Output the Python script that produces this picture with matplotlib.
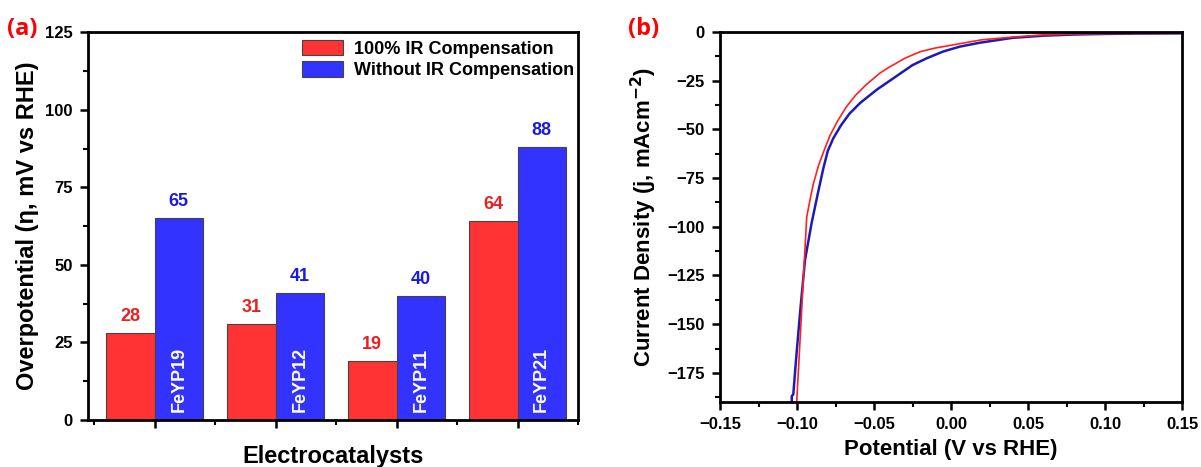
import matplotlib.pyplot as plt
import numpy as np
from matplotlib.ticker import MultipleLocator

# Overpotential at 10 mA/cm2 per catalyst
catalysts = ["FeYP19", "FeYP12", "FeYP11", "FeYP21"]
eta_ir = [28, 31, 19, 64]
eta_no_ir = [65, 41, 40, 88]

# LSV polarisation curves (V vs RHE, mA/cm2)
v_ir = [0.15, 0.12, 0.10, 0.08, 0.06, 0.04, 0.02, 0.00, -0.01, -0.02, -0.03,
        -0.04, -0.046, -0.055, -0.062, -0.068, -0.0735, -0.0785, -0.0825,
        -0.086, -0.0894, -0.0915, -0.0937, -0.0959, -0.098, -0.1002]
j_ir = [-0.6, -0.7, -0.8, -1.0, -1.5, -2.6, -4.0, -6.8, -8.2, -10.1, -13.5,
        -18, -21, -27, -32.5, -38.5, -45.5, -53, -61,
        -68.5, -78, -86, -95, -127, -158, -190]
v_raw = [0.15, 0.12, 0.10, 0.08, 0.06, 0.04, 0.0188, 0.0058, -0.005, -0.0158,
         -0.025, -0.0375, -0.048, -0.0591, -0.066, -0.0715, -0.0764, -0.080,
         -0.0829, -0.0865, -0.0905, -0.0948, -0.098, -0.1005, -0.1024,
         -0.1034, -0.1034]
j_raw = [-0.7, -0.8, -1.0, -1.3, -1.9, -3.0, -5.5, -7.5, -10, -13.5,
         -17, -23.8, -29.5, -36.5, -42, -48, -54.5, -61,
         -70, -83, -98, -117, -144, -167, -186,
         -187, -190]

RED = "#ff3333"
BLUE = "#3333ff"

plt.rcParams["font.family"] = ["Liberation Sans", "DejaVu Sans"]
plt.rcParams["font.weight"] = "bold"

fig = plt.figure(figsize=(12.01, 4.67), dpi=100)
ax1 = fig.add_axes([0.0733, 0.1006, 0.408, 0.8304])
ax2 = fig.add_axes([0.5995, 0.139, 0.3847, 0.7925])


def style_axes(ax):
    for s in ax.spines.values():
        s.set_linewidth(2)
    ax.tick_params(which="major", direction="out", length=6, width=1.8,
                   labelsize=12, pad=5)
    ax.tick_params(which="minor", direction="out", length=3.5, width=1.5)
    for lab in ax.get_xticklabels() + ax.get_yticklabels():
        lab.set_fontweight("bold")


# (a) bar chart
x = np.arange(1, len(catalysts) + 1)
w = 0.4
ax1.bar(x - w / 2, eta_ir, w, color=RED, edgecolor="#444444", linewidth=0.8,
        label="100% IR Compensation")
ax1.bar(x + w / 2, eta_no_ir, w, color=BLUE, edgecolor="#444444", linewidth=0.8,
        label="Without IR Compensation")
for xi, a, b, name in zip(x, eta_ir, eta_no_ir, catalysts):
    ax1.text(xi - w / 2, a + 2.6, str(a), color="#e82020", ha="center",
             va="bottom", fontsize=13, fontweight="bold")
    ax1.text(xi + w / 2, b + 2.6, str(b), color="#1a1ae0", ha="center",
             va="bottom", fontsize=13, fontweight="bold")
    ax1.text(xi + w / 2, 2.6, name, color="white", rotation=90, ha="center",
             va="bottom", fontsize=13, fontweight="bold")
ax1.set_xlim(0.45, 4.5)
ax1.set_ylim(0, 125)
ax1.set_xticks(x)
ax1.set_xticklabels([])
ax1.xaxis.set_minor_locator(MultipleLocator(0.5))
ax1.yaxis.set_major_locator(MultipleLocator(25))
ax1.yaxis.set_minor_locator(MultipleLocator(12.5))
ax1.set_xlabel("Electrocatalysts", fontsize=17, fontweight="bold", labelpad=7)
ax1.set_ylabel("Overpotential (η, mV vs RHE)", fontsize=17, fontweight="bold",
               labelpad=4)
leg = ax1.legend(loc="upper right", bbox_to_anchor=(1.0, 0.99), frameon=False,
                 fontsize=13, handlelength=2.3, handleheight=0.95,
                 borderaxespad=0.0, borderpad=0.2, labelspacing=0.2,
                 handletextpad=0.6)
for t in leg.get_texts():
    t.set_fontweight("bold")
style_axes(ax1)

# (b) polarisation curves
ax2.plot(v_raw, j_raw, color="#1c1cb4", linewidth=1.8)
ax2.plot(v_ir, j_ir, color="#ff2020", linewidth=1.2)
ax2.set_xlim(-0.15, 0.15)
ax2.set_ylim(-190, 0)
ax2.xaxis.set_major_locator(MultipleLocator(0.05))
ax2.xaxis.set_minor_locator(MultipleLocator(0.025))
ax2.yaxis.set_major_locator(MultipleLocator(25))
ax2.yaxis.set_minor_locator(MultipleLocator(12.5))
ax2.xaxis.set_major_formatter(plt.FuncFormatter(
    lambda v, p: f"{v:.2f}".replace("-", "\u2212")))
ax2.set_xlabel("Potential (V vs RHE)", fontsize=16, fontweight="bold",
               labelpad=5)
ax2.set_ylabel("Current Density (j, mAcm$^{\\mathbf{-2}}$)", fontsize=16,
               fontweight="bold", labelpad=6)
style_axes(ax2)

fig.text(0.006, 0.925, "(a)", color="red", fontsize=17, fontweight="bold",
         family="Open Sans")
fig.text(0.523, 0.925, "(b)", color="red", fontsize=17, fontweight="bold",
         family="Open Sans")

fig.savefig("out.png", dpi=100)
